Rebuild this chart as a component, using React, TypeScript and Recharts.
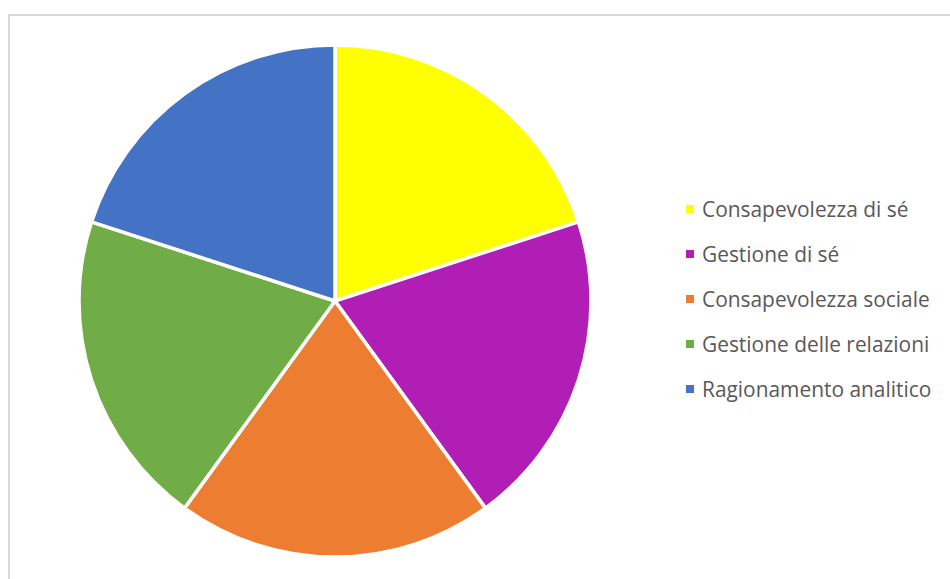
import React from "react";
import { PieChart, Pie, Cell, Legend } from "recharts";

const categories = [
  "Consapevolezza di sé",
  "Gestione di sé",
  "Consapevolezza sociale",
  "Gestione delle relazioni",
  "Ragionamento analitico",
];
const values = [1, 1, 1, 1, 1];
const COLORS = ["#FFFF00", "#B01EB5", "#ED7D31", "#70AD47", "#4472C4"];

const data = categories.map((name, i) => ({ name, value: values[i] }));

const renderLegend = () => (
  <ul style={{ listStyle: "none", margin: 0, padding: 0 }}>
    {categories.map((name, i) => (
      <li
        key={name}
        style={{
          height: 45,
          display: "flex",
          alignItems: "center",
          fontFamily: "'Open Sans', sans-serif",
          fontSize: 20.9,
          color: "#595959",
          whiteSpace: "nowrap",
        }}
      >
        <span
          style={{
            display: "inline-block",
            flex: "none",
            width: 8,
            height: 8,
            background: COLORS[i],
            marginRight: 8,
          }}
        />
        {name}
      </li>
    ))}
  </ul>
);

export default function App() {
  return (
    <div
      style={{
        position: "absolute",
        left: 8,
        top: 14,
        width: 940,
        height: 565,
        borderTop: "2px solid #d9d9d9",
        borderLeft: "2px solid #d9d9d9",
        background: "#fff",
      }}
    >
      <PieChart
        width={938}
        height={563}
        margin={{ top: 0, right: 0, bottom: 0, left: 0 }}
      >
        <Pie
          data={data}
          dataKey="value"
          nameKey="name"
          cx={325}
          cy={285}
          outerRadius={256}
          startAngle={90}
          endAngle={-270}
          stroke="#ffffff"
          strokeWidth={3.5}
          isAnimationActive={false}
        >
          {data.map((d, i) => (
            <Cell key={d.name} fill={COLORS[i]} />
          ))}
        </Pie>
        <Legend
          layout="vertical"
          content={renderLegend}
          wrapperStyle={{ left: 676, top: 170, width: 262 }}
        />
      </PieChart>
    </div>
  );
}
